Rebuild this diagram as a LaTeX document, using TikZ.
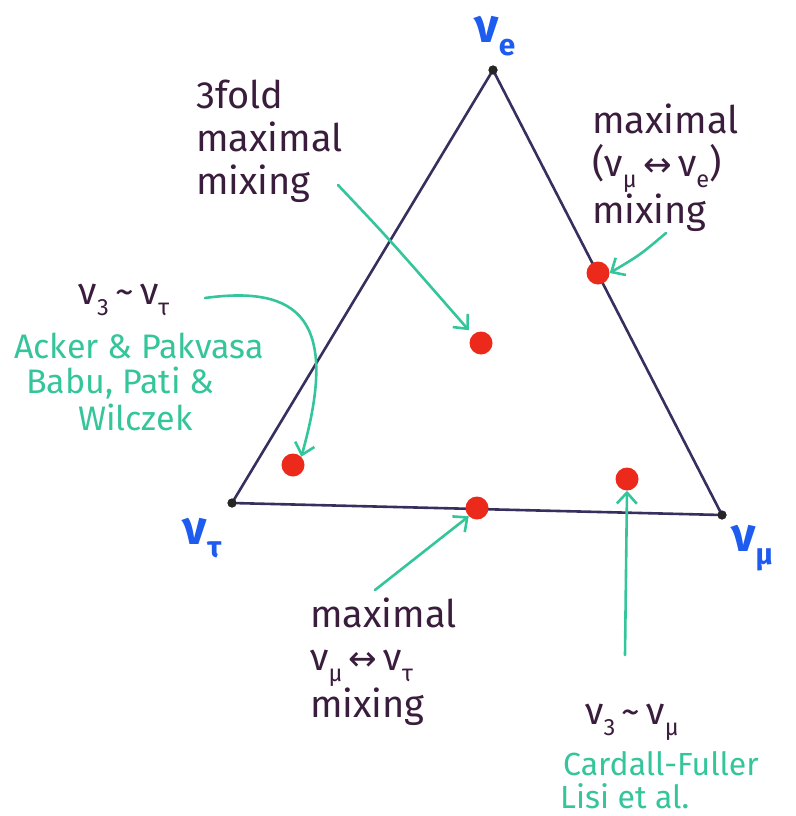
\documentclass[tikz,border=0pt]{standalone}
\usepackage{fontspec}
\setmainfont{Fira Sans}
\newfontfamily\symf{DejaVu Sans}
\usetikzlibrary{arrows.meta}
\definecolor{ink}{HTML}{3A1D3C}
\definecolor{grn}{HTML}{35C59B}
\definecolor{blu}{HTML}{1E5BEF}
\definecolor{triink}{HTML}{35305E}
\definecolor{dotred}{HTML}{EC2A1C}
\newcommand\lowsub[1]{\raisebox{-0.28em}{\scalebox{0.62}{#1}}}
\newcommand\lr{{\symf\scalebox{0.9}{↔}}}
\tikzset{
  triline/.style={draw=triink,line width=2.6pt,line join=round},
  vdot/.style={circle,fill=black!85,inner sep=0pt,minimum size=9pt},
  rdot/.style={circle,fill=dotred,inner sep=0pt,minimum size=23pt},
  inktext/.style={text=ink,font=\fontsize{38}{43}\selectfont,inner sep=0pt,align=left},
  grntext/.style={text=grn,font=\fontsize{32}{36}\selectfont,inner sep=0pt},
  grnwide/.style={text=grn,font=\fontsize{34}{38}\selectfont,inner sep=0pt},
  vlabel/.style={text=blu,font=\bfseries\fontsize{48}{48}\selectfont,inner sep=0pt},
  garrow/.style={draw=grn,line width=2.6pt,line cap=round,-{Straight Barb[length=11pt,width=20pt,line width=2.6pt]}}
}
\begin{document}
\begin{tikzpicture}[x=1pt,y=-1pt]
\useasboundingbox (0,0) rectangle (795,816);
% vertices
\node[vdot] (E) at (493,70) {};
\node[vdot] (T) at (232,503) {};
\node[vdot] (M) at (722,515) {};
\draw[triline] (E.center) -- (T.center) -- (M.center) -- cycle;
\node[vdot] at (E.center) {};
\node[vdot] at (T.center) {};
\node[vdot] at (M.center) {};
% vertex labels
\node[vlabel] (lE) at (495,36) {ν\lowsub{e}};
\node[vlabel] (lT) at (202,538) {ν\lowsub{τ}};
\node[vlabel] (lM) at (752,548) {ν\lowsub{μ}};
% red dots
\node[rdot] (d3) at (481,343) {};
\node[rdot] (dT) at (293,465) {};
\node[rdot] (dE) at (598,273) {};
\node[rdot] (dB) at (477,508) {};
\node[rdot] (dM) at (627,479) {};
% texts
\node[inktext,anchor=north west] (t3) at (196,80) {3fold\\maximal\\mixing};
\node[inktext,anchor=north west] (tE) at (592,104) {maximal\\(ν\lowsub{μ}\,\lr\,ν\lowsub{e})\\mixing};
\node[inktext,anchor=north west] (tB) at (310,598) {maximal\\ν\lowsub{μ}\,\lr\,ν\lowsub{τ}\\mixing};
\node[inktext,anchor=center] (tT) at (124,300) {ν\lowsub{3}\,\textasciitilde\,ν\lowsub{τ}};
\node[inktext,anchor=center] (tM) at (632,722) {ν\lowsub{3}\,\textasciitilde\,ν\lowsub{μ}};
\node[grnwide,anchor=west] (g1) at (14,346) {Acker \& Pakvasa};
\node[grnwide,anchor=west] (g2) at (26,383) {Babu, Pati \&};
\node[grnwide,anchor=west] (g3) at (78,417) {Wilczek};
\node[grntext,anchor=west] (g4) at (563,764) {Cardall-Fuller};
\node[grntext,anchor=west] (g5) at (560,796) {Lisi et al.};
% arrow start points
\coordinate (s3) at (338,185);
\coordinate (sE) at (666,233);
\coordinate (sT) at (205,298);
\coordinate (sB) at (375,590);
\coordinate (sM) at (625,655);
% arrows
\draw[garrow,shorten >=6pt] (s3) .. controls (390,240) .. (d3.north west);
\draw[garrow] (sE) .. controls (640,255) .. (dE.east);
\draw[garrow] (sT) .. controls (300,285) and (340,320) .. (dT.north east);
\draw[garrow] (sB) -- (dB.south west);
\draw[garrow] (sM) -- (dM.south);
\end{tikzpicture}
\end{document}
